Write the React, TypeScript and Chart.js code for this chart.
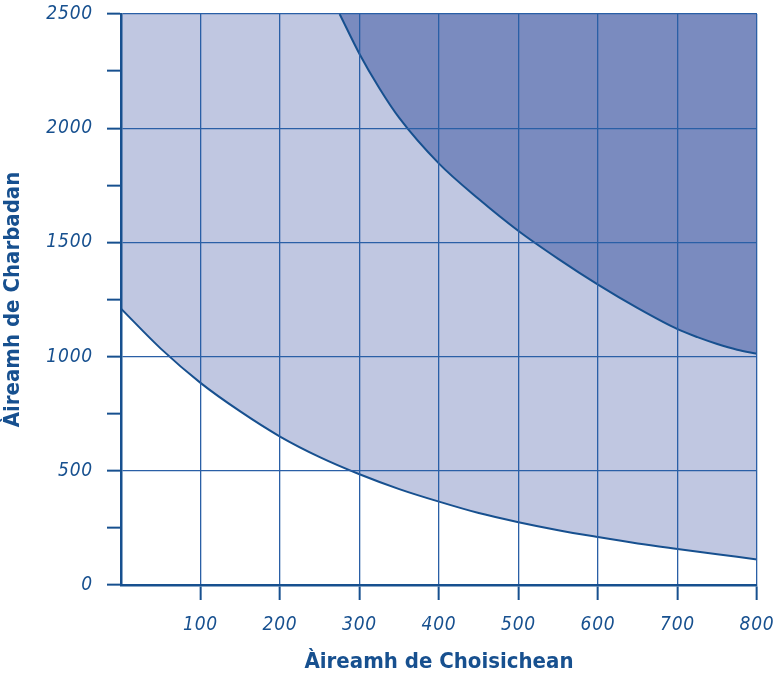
import React, { useEffect, useRef } from "react";
import { Chart, registerables } from "chart.js";

Chart.register(...registerables);

const lowerX = [0, 50, 100, 150, 200, 250, 300, 350, 400, 450, 500, 550, 600, 650, 700, 750, 800];
const lowerY = [1210, 1035, 885, 760, 650, 560, 485, 420, 365, 315, 275, 240, 210, 182, 158, 135, 112];
const upperX = [275, 300, 325, 350, 400, 450, 500, 550, 600, 650, 700, 725, 750, 775, 800];
const upperY = [2500, 2325, 2175, 2045, 1845, 1690, 1550, 1428, 1315, 1212, 1120, 1085, 1055, 1030, 1012];
const xTitle = "Àireamh de Choisichean";
const yTitle = "Àireamh de Charbadan";

const BLUE = "#17508f";
const GRID = "#2a5fa6";
const TICK_FONT = { family: "DejaVu Sans Condensed", size: 19, style: "oblique" as any };
const TITLE_FONT = { family: "DejaVu Sans Condensed", size: 22, weight: "bold" as any };

export default function App() {
  const ref = useRef<HTMLCanvasElement>(null);
  useEffect(() => {
    if (!ref.current) return;
    const spacing = {
      id: "spacing",
      beforeDraw(chart: any) {
        (chart.ctx as any).letterSpacing = "0.8px";
      },
      afterDatasetsDraw(chart: any) {
        (chart.ctx as any).letterSpacing = "0px";
      },
    };
    const chart = new Chart(ref.current, {
      type: "line",
      data: {
        datasets: [
          {
            data: upperX.map((x, i) => ({ x, y: upperY[i] })),
            borderColor: BLUE,
            borderWidth: 2,
            backgroundColor: "#7a8bbf",
            fill: "end",
            pointRadius: 0,
            cubicInterpolationMode: "monotone",
            order: 0,
          },
          {
            data: lowerX.map((x, i) => ({ x, y: lowerY[i] })),
            borderColor: BLUE,
            borderWidth: 2,
            backgroundColor: "#c0c7e1",
            fill: "end",
            pointRadius: 0,
            cubicInterpolationMode: "monotone",
            order: 1,
          },
        ],
      },
      plugins: [spacing],
      options: {
        animation: false,
        responsive: false,
        maintainAspectRatio: false,
        layout: { padding: { left: 0, right: 19, top: 14, bottom: 0 } },
        plugins: { legend: { display: false }, tooltip: { enabled: false } },
        scales: {
          x: {
            type: "linear",
            min: 0,
            max: 800,
            afterFit(s: any) {
              s.height = 90;
              s.paddingLeft = 0;
              s.paddingRight = 0;
            },
            ticks: {
              stepSize: 100,
              color: BLUE,
              padding: 14,
              font: TICK_FONT,
              callback: (v: any) => (v === 0 ? "" : String(v)),
            },
            grid: {
              z: 1,
              color: (c: any) => (c.tick && c.tick.value === 0 ? "rgba(0,0,0,0)" : GRID),
              lineWidth: 1.3,
              tickLength: 15,
              tickColor: (c: any) => (c.tick && c.tick.value === 0 ? "rgba(0,0,0,0)" : BLUE),
              tickWidth: 2,
            },
            border: { color: BLUE, width: 2.5, z: 2 },
            title: {
              display: true,
              text: xTitle,
              color: BLUE,
              font: TITLE_FONT,
              padding: { top: 4, bottom: 0 },
            },
          },
          y: {
            type: "linear",
            min: 0,
            max: 2500,
            afterFit(s: any) {
              s.width = 121;
              s.paddingTop = 0;
              s.paddingBottom = 0;
            },
            ticks: {
              stepSize: 250,
              color: BLUE,
              padding: 14,
              font: TICK_FONT,
              callback: (v: any) => (v % 500 === 0 ? String(v) : ""),
            },
            grid: {
              z: 1,
              color: (c: any) =>
                c.tick && c.tick.value % 500 === 0 && c.tick.value !== 0 ? GRID : "rgba(0,0,0,0)",
              lineWidth: 1.3,
              tickLength: 14,
              tickColor: BLUE,
              tickWidth: 2,
            },
            border: { color: BLUE, width: 2.5, z: 2 },
            title: {
              display: true,
              text: yTitle,
              color: BLUE,
              font: TITLE_FONT,
              padding: { top: 0, bottom: 0 },
            },
          },
        },
      },
    });
    return () => chart.destroy();
  }, []);
  return (
    <div style={{ position: "absolute", left: 0, top: 0, width: 776, height: 675 }}>
      <canvas ref={ref} width={776} height={675} style={{ width: 776, height: 675 }} />
    </div>
  );
}
